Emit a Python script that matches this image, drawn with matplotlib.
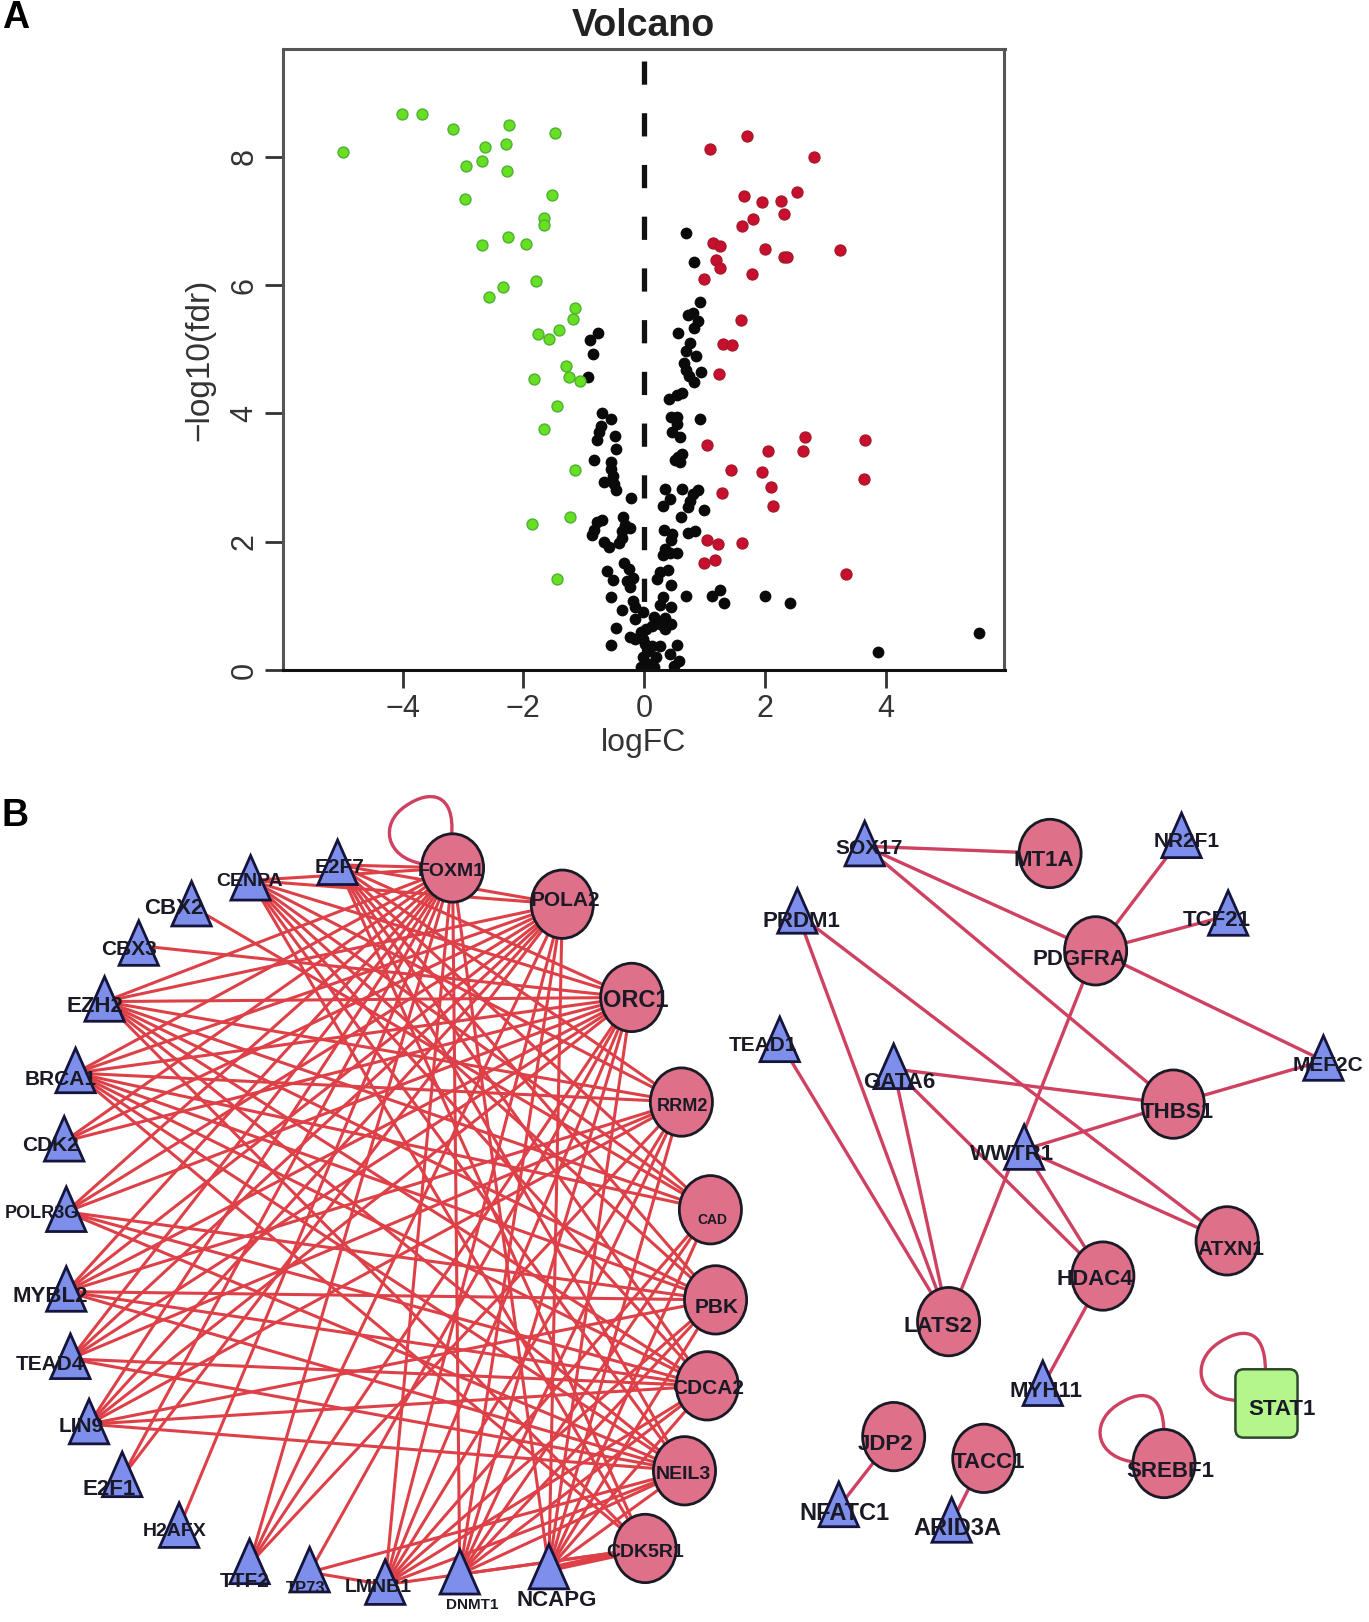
"""
Figure: A volcano plot, B regulatory network
"""

import matplotlib
matplotlib.use("Agg")
import matplotlib.pyplot as plt
from matplotlib.patches import Ellipse, FancyBboxPatch, PathPatch, Polygon
from matplotlib.path import Path

plt.rcParams["font.family"] = ["Liberation Sans", "DejaVu Sans"]

# ── Panel A data ─────────────────────────────────────────────────────────────
down_fc = [-4.98, -4.01, -3.67, -3.16, -2.23, -1.47, -2.63, -2.28, -2.69, -2.95, -2.27, -2.96,
           -1.53, -1.65, -1.65, -2.25, -2.68, -1.95, -1.79, -2.34, -2.56, -1.15, -1.17, -1.41,
           -1.75, -1.57, -1.30, -1.24, -1.83, -1.06, -1.45, -1.65, -1.14, -1.22, -1.85, -1.44]
down_fdr = [8.08, 8.66, 8.66, 8.43, 8.50, 8.37, 8.16, 8.20, 7.94, 7.85, 7.78, 7.34,
            7.40, 7.05, 6.93, 6.75, 6.62, 6.64, 6.06, 5.97, 5.82, 5.64, 5.47, 5.30,
            5.23, 5.16, 4.74, 4.57, 4.54, 4.51, 4.12, 3.75, 3.11, 2.39, 2.27, 1.42]

up_fc = [1.09, 1.70, 2.81, 2.54, 1.65, 1.95, 2.26, 2.32, 1.80, 1.62, 1.15, 1.25, 2.00, 3.24,
         2.31, 2.36, 1.19, 1.26, 1.78, 0.99, 1.61, 1.31, 1.46, 1.24, 2.67, 3.66, 1.04, 2.05,
         2.64, 1.44, 1.95, 3.65, 2.10, 1.29, 2.13, 1.04, 1.22, 1.63, 1.17, 0.99, 3.34]
up_fdr = [8.12, 8.32, 8.00, 7.45, 7.39, 7.29, 7.31, 7.11, 7.03, 6.92, 6.65, 6.61, 6.57, 6.54,
          6.44, 6.44, 6.39, 6.27, 6.17, 6.09, 5.46, 5.08, 5.07, 4.62, 3.63, 3.58, 3.51, 3.42,
          3.41, 3.12, 3.09, 2.98, 2.85, 2.76, 2.56, 2.02, 1.96, 1.98, 1.71, 1.67, 1.49]

ns_fc = [0.69, 0.82, 0.93, 0.81, 0.72, 0.90, 0.83, 0.56, -0.76, -0.90, 0.76, 0.69, -0.85, 0.86,
         0.66, 0.95, 0.69, 0.75, -0.93, 0.82, 0.63, 0.54, 0.42, -0.69, -0.55, 0.93, 0.45, 0.54,
         0.55, -0.71, -0.74, 0.46, -0.48, -0.78, 0.60, -0.46, 0.63, 0.56, 0.52, -0.83, -0.54, 0.60,
         -0.55, -0.51, -0.67, -0.49, -0.46, 0.35, 0.63, 0.90, 0.81, -0.21, 0.43, 0.76, 0.31, 0.72,
         0.99, -0.35, 0.61, -0.69, -0.78, -0.31, -0.83, -0.24, -0.37, -0.87, 0.33, 0.85, 0.72, 0.46,
         -0.67, -0.37, -0.42, -0.58, 0.45, 0.35, 0.43, 0.54, 0.31, -0.33, -0.25, -0.62, 0.40, 0.26,
         -0.19, -0.51, -0.28, 0.22, 0.45, -0.24, 1.26, 1.13, 0.70, 2.00, 1.33, 2.41, -0.54, 0.31,
         -0.19, -0.15, 0.26, -0.37, 0.45, -0.01, 0.35, -0.15, 0.17, 0.26, 0.45, -0.46, 0.13, 0.35,
         0.04, -0.05, -0.24, -0.15, -0.01, 0.54, -0.55, 0.02, 0.13, 0.26, 0.06, 0.43, 0.20, -0.01,
         0.58, 0.08, -0.05, 0.17, 0.49, 3.87, 5.54]
ns_fdr = [6.81, 6.36, 5.73, 5.56, 5.53, 5.44, 5.33, 5.26, 5.25, 5.14, 5.09, 4.98, 4.92, 4.90,
          4.79, 4.64, 4.67, 4.59, 4.57, 4.49, 4.32, 4.28, 4.22, 4.01, 3.91, 3.92, 3.94, 3.94,
          3.84, 3.81, 3.71, 3.71, 3.64, 3.58, 3.63, 3.45, 3.36, 3.32, 3.28, 3.28, 3.25, 3.25,
          3.13, 3.02, 2.93, 2.90, 2.80, 2.82, 2.82, 2.81, 2.75, 2.68, 2.67, 2.63, 2.56, 2.54,
          2.49, 2.39, 2.39, 2.34, 2.30, 2.26, 2.19, 2.21, 2.16, 2.10, 2.19, 2.17, 2.13, 2.12,
          2.00, 2.06, 1.98, 1.92, 2.02, 1.88, 1.83, 1.83, 1.79, 1.67, 1.57, 1.54, 1.56, 1.52,
          1.44, 1.40, 1.38, 1.42, 1.33, 1.29, 1.25, 1.16, 1.16, 1.15, 1.05, 1.05, 1.14, 1.14,
          1.08, 0.98, 1.02, 0.94, 0.98, 0.91, 0.81, 0.79, 0.83, 0.71, 0.71, 0.65, 0.68, 0.64,
          0.64, 0.60, 0.52, 0.48, 0.48, 0.39, 0.39, 0.41, 0.37, 0.37, 0.29, 0.25, 0.21, 0.21,
          0.14, 0.10, 0.05, 0.05, 0.06, 0.28, 0.57]

x_ticks = [-4, -2, 0, 2, 4]
y_ticks = [0, 2, 4, 6, 8]

# ── Panel B data ─────────────────────────────────────────────────────────────
# name: (x, y) layout position on the network canvas
tf_pos = {
    "E2F7": (326, 835), "CENPA": (242, 850), "CBX2": (185, 875), "CBX3": (134, 913),
    "EZH2": (101, 967), "BRCA1": (73, 1036), "CDK2": (62, 1102), "POLR3G": (64, 1170),
    "MYBL2": (64, 1247), "TEAD4": (68, 1312), "LIN9": (86, 1375), "E2F1": (118, 1426),
    "H2AFX": (173, 1475), "TTF2": (241, 1510), "TP73": (299, 1518), "LMNB1": (372, 1530),
    "DNMT1": (444, 1520), "NCAPG": (530, 1515),
    "SOX17": (835, 817), "NR2F1": (1141, 809), "PRDM1": (770, 882), "TCF21": (1186, 884),
    "TEAD1": (753, 1006), "GATA6": (863, 1032), "MEF2C": (1278, 1024), "WWTR1": (989, 1110),
    "MYH11": (1007, 1338), "NFATC1": (810, 1455), "ARID3A": (919, 1470),
}
gene_pos = {
    "FOXM1": (437, 838), "POLA2": (543, 873), "ORC1": (610, 963), "RRM2": (658, 1064),
    "CAD": (686, 1168), "PBK": (691, 1255), "CDCA2": (683, 1338), "NEIL3": (661, 1420),
    "CDK5R1": (623, 1495),
    "MT1A": (1014, 824), "PDGFRA": (1058, 918), "THBS1": (1133, 1066), "ATXN1": (1185, 1198),
    "HDAC4": (1065, 1232), "LATS2": (916, 1276), "JDP2": (863, 1387), "TACC1": (950, 1408),
    "SREBF1": (1124, 1413),
}
stat1_pos = (1223, 1355)

# label position and font size
label_pos = {
    "E2F7": (328, 838, 15), "CENPA": (241, 851, 14), "CBX2": (168, 877, 16), "CBX3": (125, 917, 15),
    "EZH2": (92, 972, 16), "BRCA1": (59, 1042, 15), "CDK2": (49, 1106, 15), "POLR3G": (40, 1172, 13),
    "MYBL2": (49, 1252, 16), "TEAD4": (48, 1317, 15), "LIN9": (78, 1377, 15), "E2F1": (105, 1438, 16),
    "H2AFX": (169, 1479, 14), "TTF2": (236, 1527, 15), "TP73": (295, 1534, 12), "LMNB1": (365, 1533, 14),
    "DNMT1": (456, 1550, 11), "NCAPG": (538, 1545, 16),
    "FOXM1": (436, 841, 14), "POLA2": (546, 869, 15), "ORC1": (614, 966, 17), "RRM2": (659, 1068, 13),
    "CAD": (688, 1178, 10), "PBK": (692, 1262, 15), "CDCA2": (684, 1341, 15), "NEIL3": (660, 1424, 14),
    "CDK5R1": (623, 1499, 14),
    "SOX17": (839, 819, 15), "MT1A": (1008, 831, 16), "NR2F1": (1146, 812, 15), "PRDM1": (774, 890, 16),
    "PDGFRA": (1042, 926, 16), "TCF21": (1175, 889, 16), "TEAD1": (737, 1009, 15), "GATA6": (868, 1045, 16),
    "MEF2C": (1282, 1029, 15), "THBS1": (1137, 1074, 16), "WWTR1": (977, 1115, 16), "ATXN1": (1189, 1206, 15),
    "HDAC4": (1057, 1235, 16), "LATS2": (906, 1281, 16), "MYH11": (1010, 1343, 16), "JDP2": (855, 1395, 16),
    "TACC1": (955, 1412, 16), "NFATC1": (815, 1461, 17), "ARID3A": (925, 1476, 17), "SREBF1": (1130, 1421, 16),
    "STAT1": (1238, 1361, 16),
}

core = ["FOXM1", "POLA2", "ORC1", "RRM2", "CAD", "PBK", "CDCA2", "NEIL3"]
edges_left = {
    "E2F7": core + ["CDK5R1"],
    "CENPA": core + ["CDK5R1"],
    "CBX2": ["CAD"],
    "CBX3": ["ORC1"],
    "EZH2": core + ["CDK5R1"],
    "BRCA1": core + ["CDK5R1"],
    "CDK2": ["FOXM1", "POLA2", "ORC1"],
    "POLR3G": ["FOXM1", "POLA2", "ORC1", "PBK", "CDCA2", "NEIL3"],
    "MYBL2": ["FOXM1", "POLA2", "ORC1", "RRM2", "PBK", "CDCA2", "NEIL3"],
    "TEAD4": ["FOXM1", "POLA2", "ORC1", "RRM2", "CDCA2", "NEIL3"],
    "LIN9": ["FOXM1", "POLA2", "ORC1", "RRM2", "PBK", "CDCA2", "NEIL3"],
    "E2F1": ["FOXM1", "POLA2"],
    "H2AFX": ["FOXM1"],
    "TTF2": ["FOXM1", "POLA2", "ORC1", "RRM2"],
    "TP73": ["ORC1", "NEIL3", "LMNB1"],
    "LMNB1": core + ["CDK5R1"],
    "DNMT1": core + ["CDK5R1"],
    "NCAPG": core + ["CDK5R1"],
}
edges_right = [
    ("SOX17", "MT1A"), ("SOX17", "PDGFRA"), ("SOX17", "THBS1"), ("NR2F1", "PDGFRA"),
    ("TCF21", "PDGFRA"), ("MEF2C", "PDGFRA"), ("PDGFRA", "LATS2"), ("MEF2C", "THBS1"),
    ("GATA6", "THBS1"), ("WWTR1", "THBS1"), ("WWTR1", "ATXN1"), ("WWTR1", "HDAC4"),
    ("GATA6", "HDAC4"), ("GATA6", "LATS2"), ("PRDM1", "LATS2"), ("PRDM1", "ATXN1"),
    ("TEAD1", "LATS2"), ("MYH11", "HDAC4"), ("NFATC1", "JDP2"), ("ARID3A", "TACC1"),
]
# self loops: two cubic segments each
loops = [
    [(408, 834), (372, 828), (366, 795), (392, 778), (415, 762), (440, 765), (436, 808)],
    [(1098, 1412), (1058, 1408), (1052, 1375), (1078, 1357), (1100, 1342), (1124, 1340), (1124, 1385)],
    [(1194, 1352), (1155, 1350), (1150, 1315), (1176, 1297), (1198, 1282), (1222, 1280), (1222, 1324)],
]

# ── Style ────────────────────────────────────────────────────────────────────
RED_EDGE = "#DE4048"
RED_EDGE2 = "#CF4160"
PINK = "#DE7089"
BLUE = "#7D8EEB"
LIME = "#B4F58C"
DARK = "#1A1A26"

fig = plt.figure(figsize=(13.69, 16.22), dpi=100)

# ─────────────────────────────────────────────────────────────────────────────
# A: volcano
# ─────────────────────────────────────────────────────────────────────────────
ax = fig.add_axes([283 / 1369, 1 - 670 / 1622, (1004.5 - 283) / 1369, (670 - 49) / 1622])
ax.plot([0, 0], [9.5, 0], color="#111111", lw=3.8, dashes=(4.4, 5.4), dash_capstyle="butt", zorder=1)
ax.scatter(ns_fc, ns_fdr, s=72, color="#0A0A0A", linewidths=0, zorder=2)
ax.scatter(down_fc, down_fdr, s=62, color="#66E020", edgecolors="#4FAF35", linewidths=1, zorder=3)
ax.scatter(up_fc, up_fdr, s=62, color="#C80F2D", edgecolors="#A5182A", linewidths=1, zorder=3)
ax.set_xlim(-5.98, 5.97)
ax.set_ylim(0, 9.68)
ax.set_xticks(x_ticks)
ax.set_yticks(y_ticks)
ax.tick_params(axis="both", length=13, width=2, color="#333333", labelsize=22, labelcolor="#333333", pad=4)
for lab in ax.get_yticklabels():
    lab.set_rotation(90)
    lab.set_va("center")
for name, spine in ax.spines.items():
    spine.set_linewidth(2.2)
    spine.set_color("#111111" if name == "bottom" else "#555555")
ax.set_xlabel("logFC", fontsize=23, color="#333333", labelpad=3)
ax.set_ylabel("\u2212log10(fdr)", fontsize=24, color="#333333", labelpad=10)
ax.set_title("Volcano", fontsize=27, fontweight="bold", color="#222222", pad=9)

# ─────────────────────────────────────────────────────────────────────────────
# B: network
# ─────────────────────────────────────────────────────────────────────────────
net = fig.add_axes([0, 0, 1, 1], zorder=-1)
net.set_xlim(0, 1322)
net.set_ylim(1566, 0)
net.axis("off")

all_pos = {**tf_pos, **gene_pos, "STAT1": stat1_pos}

for tf, genes in edges_left.items():
    for g in genes:
        x0, y0 = all_pos[tf]
        x1, y1 = all_pos[g]
        net.plot([x0, x1], [y0, y1], color=RED_EDGE, lw=2.2, solid_capstyle="round", zorder=1)
net.plot([all_pos["NCAPG"][0], all_pos["CDK5R1"][0]], [all_pos["NCAPG"][1], all_pos["CDK5R1"][1]],
         color=RED_EDGE, lw=4.5, zorder=1)

for a, b in edges_right:
    x0, y0 = all_pos[a]
    x1, y1 = all_pos[b]
    net.plot([x0, x1], [y0, y1], color=RED_EDGE2, lw=2.4, zorder=1)

for pts in loops:
    codes = [Path.MOVETO] + [Path.CURVE4] * 6
    net.add_patch(PathPatch(Path(pts, codes), fc="none", ec=RED_EDGE2, lw=2.4, zorder=1))

for name, (x, y) in gene_pos.items():
    net.add_patch(Ellipse((x, y), 60, 66, fc=PINK, ec=DARK, lw=2.0, zorder=2))

for name, (x, y) in tf_pos.items():
    net.add_patch(Polygon([(x, y - 24), (x - 19, y + 19), (x + 19, y + 19)], closed=True,
                          fc=BLUE, ec="#14143C", lw=2.0, zorder=3))

sx, sy = stat1_pos
net.add_patch(FancyBboxPatch((sx - 30, sy - 33), 60, 66, boxstyle="round,pad=0,rounding_size=8",
                             fc=LIME, ec="#2A4A2A", lw=1.8, zorder=2))

for name, (x, y, size) in label_pos.items():
    net.text(x, y, name, fontsize=size, fontweight="bold", color=DARK, ha="center", va="center", zorder=4)

fig.text(2 / 1369, 1 - 18 / 1622, "A", fontsize=27, fontweight="bold", color="black", va="center")
fig.text(2 / 1369, 1 - 816 / 1622, "B", fontsize=27, fontweight="bold", color="black", va="center")

fig.savefig("out.png", dpi=100)
